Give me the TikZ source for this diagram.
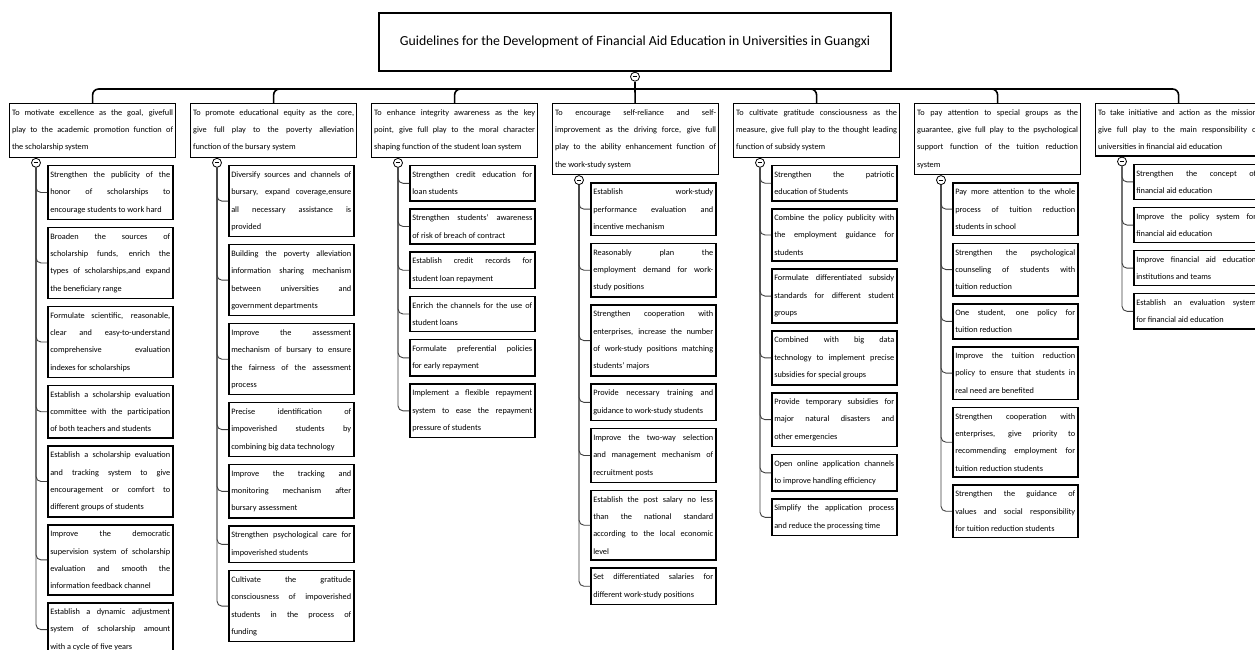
\documentclass[tikz,border=0pt]{standalone}
\usepackage{fontspec}
\setmainfont{Carlito}
\usetikzlibrary{positioning}
\tolerance=10000
\hyphenpenalty=10000
\hbadness=10000
\hfuzz=20pt
\newcommand\boxfont{\fontsize{8.3}{17.3}\selectfont}
\begin{document}
\begin{tikzpicture}[x=1pt,y=1pt]
\tikzstyle{hdbox}=[draw, line width=1.2pt, text width=161pt, inner xsep=2.5pt, inner ysep=6pt, align=justify, font=\boxfont, anchor=north west]
\tikzstyle{leafbox}=[draw, line width=1.5pt, text width=120pt, inner xsep=2.5pt, inner ysep=6pt, align=justify, font=\boxfont]
\tikzstyle{tog}=[circle, draw, fill=white, line width=0.8pt, minimum size=9pt, inner sep=0pt, anchor=north, path picture={\draw[line width=1.1pt] ([xshift=-2.4pt]path picture bounding box.center) -- ([xshift=2.4pt]path picture bounding box.center);}]
\tikzstyle{link}=[draw=black!75, line width=0.9pt, rounded corners=5pt]
\tikzstyle{bus}=[draw=black, line width=1.6pt, rounded corners=6pt]
\clip (0,0) rectangle (1255,-650);
\fill[white] (0,0) rectangle (1255,-650);
\node[draw, line width=1.6pt, minimum width=512pt, minimum height=58pt, font=\fontsize{13.8}{16}\selectfont] (title) at (635,-42) {Guidelines for the Development of Financial Aid Education in Universities in Guangxi};
\node[tog] (ttog) at (title.south) {};
\coordinate (busy) at (0,-89);
\node[hdbox] (hd1) at (9,-103) {To motivate excellence as the goal, givefull\linebreak play to the academic promotion function of\linebreak the scholarship system};
\node[hdbox] (hd2) at (190,-103) {To promote educational equity as the core,\linebreak give full play to the poverty alleviation\linebreak function of the bursary system};
\node[hdbox] (hd3) at (371,-103) {To enhance integrity awareness as the key\linebreak point, give full play to the moral character\linebreak shaping function of the student loan system};
\node[hdbox] (hd4) at (552,-103) {To encourage self-reliance and self-\linebreak improvement as the driving force, give full\linebreak play to the ability enhancement function of\linebreak the work-study system};
\node[hdbox] (hd5) at (733,-103) {To cultivate gratitude consciousness as the\linebreak measure, give full play to the thought leading\linebreak function of subsidy system};
\node[hdbox] (hd6) at (914,-103) {To pay attention to special groups as the\linebreak guarantee, give full play to the psychological\linebreak support function of the tuition reduction\linebreak system};
\node[hdbox] (hd7) at (1095,-103) {To take initiative and action as the mission,\linebreak give full play to the main responsibility of\linebreak universities in financial aid education};
\draw[bus] (ttog) -- (ttog |- busy);
\draw[bus] (ttog |- busy) -| (hd1);
\draw[bus] (ttog |- busy) -| (hd2);
\draw[bus] (ttog |- busy) -| (hd3);
\draw[bus] (ttog |- busy) -- (hd4);
\draw[bus] (ttog |- busy) -| (hd5);
\draw[bus] (ttog |- busy) -| (hd6);
\draw[bus] (ttog |- busy) -| (hd7);
\node[tog] (t1) at ([xshift=27pt]hd1.south west) {};
\node[tog] (t2) at ([xshift=27pt]hd2.south west) {};
\node[tog] (t3) at ([xshift=27pt]hd3.south west) {};
\node[tog] (t4) at ([xshift=27pt]hd4.south west) {};
\node[tog] (t5) at ([xshift=27pt]hd5.south west) {};
\node[tog] (t6) at ([xshift=27pt]hd6.south west) {};
\node[tog] (t7) at ([xshift=27pt]hd7.south west) {};
\node[leafbox, anchor=north west] (a1) at ([xshift=38pt,yshift=-7pt]hd1.south west) {Strengthen the publicity of the\linebreak honor of scholarships to\linebreak \mbox{encourage students to work hard}};
\node[leafbox, below=6.5pt of a1] (a2) {Broaden the sources of\linebreak scholarship funds, enrich the\linebreak types of scholarships,and expand\linebreak the beneficiary range};
\node[leafbox, below=6.5pt of a2] (a3) {Formulate scientific, reasonable,\linebreak clear and easy-to-understand\linebreak comprehensive evaluation\linebreak indexes for scholarships};
\node[leafbox, below=6.5pt of a3] (a4) {Establish a scholarship evaluation\linebreak committee with the participation\linebreak of both teachers and students};
\node[leafbox, below=6.5pt of a4] (a5) {Establish a scholarship evaluation\linebreak and tracking system to give\linebreak encouragement or comfort to\linebreak different groups of students};
\node[leafbox, below=6.5pt of a5] (a6) {Improve the democratic\linebreak supervision system of scholarship\linebreak evaluation and smooth the\linebreak information feedback channel};
\node[leafbox, below=6.5pt of a6] (a7) {Establish a dynamic adjustment\linebreak system of scholarship amount\linebreak with a cycle of five years};
\node[leafbox, anchor=north west] (b1) at ([xshift=38pt,yshift=-7pt]hd2.south west) {Diversify sources and channels of\linebreak bursary, expand coverage,ensure\linebreak all necessary assistance is\linebreak provided};
\node[leafbox, below=6.5pt of b1] (b2) {Building the poverty alleviation\linebreak information sharing mechanism\linebreak between universities and\linebreak government departments};
\node[leafbox, below=6.5pt of b2] (b3) {Improve the assessment\linebreak mechanism of bursary to ensure\linebreak the fairness of the assessment\linebreak process};
\node[leafbox, below=6.5pt of b3] (b4) {Precise identification of\linebreak impoverished students by\linebreak combining big data technology};
\node[leafbox, below=6.5pt of b4] (b5) {Improve the tracking and\linebreak monitoring mechanism after\linebreak bursary assessment};
\node[leafbox, below=6.5pt of b5] (b6) {Strengthen psychological care for\linebreak impoverished students};
\node[leafbox, below=6.5pt of b6] (b7) {Cultivate the gratitude\linebreak consciousness of impoverished\linebreak students in the process of\linebreak funding};
\node[leafbox, anchor=north west] (c1) at ([xshift=38pt,yshift=-7pt]hd3.south west) {Strengthen credit education for\linebreak loan students};
\node[leafbox, below=6.5pt of c1] (c2) {Strengthen students' awareness\linebreak of risk of breach of contract};
\node[leafbox, below=6.5pt of c2] (c3) {Establish credit records for\linebreak student loan repayment};
\node[leafbox, below=6.5pt of c3] (c4) {Enrich the channels for the use of\linebreak student loans};
\node[leafbox, below=6.5pt of c4] (c5) {Formulate preferential policies\linebreak for early repayment};
\node[leafbox, below=6.5pt of c5] (c6) {Implement a flexible repayment\linebreak system to ease the repayment\linebreak pressure of students};
\node[leafbox, anchor=north west] (d1) at ([xshift=38pt,yshift=-7pt]hd4.south west) {Establish work-study\linebreak performance evaluation and\linebreak incentive mechanism};
\node[leafbox, below=6.5pt of d1] (d2) {Reasonably plan the\linebreak employment demand for work-\linebreak study positions};
\node[leafbox, below=6.5pt of d2] (d3) {Strengthen cooperation with\linebreak enterprises, increase the number\linebreak of work-study positions matching\linebreak students' majors};
\node[leafbox, below=6.5pt of d3] (d4) {Provide necessary training and\linebreak guidance to work-study students};
\node[leafbox, below=6.5pt of d4] (d5) {Improve the two-way selection\linebreak and management mechanism of\linebreak recruitment posts};
\node[leafbox, below=6.5pt of d5] (d6) {Establish the post salary no less\linebreak than the national standard\linebreak according to the local economic\linebreak level};
\node[leafbox, below=6.5pt of d6] (d7) {Set differentiated salaries for\linebreak different work-study positions};
\node[leafbox, anchor=north west] (e1) at ([xshift=38pt,yshift=-7pt]hd5.south west) {Strengthen the patriotic\linebreak education of Students};
\node[leafbox, below=6.5pt of e1] (e2) {Combine the policy publicity with\linebreak the employment guidance for\linebreak students};
\node[leafbox, below=6.5pt of e2] (e3) {Formulate differentiated subsidy\linebreak standards for different student\linebreak groups};
\node[leafbox, below=6.5pt of e3] (e4) {Combined with big data\linebreak technology to implement precise\linebreak subsidies for special groups};
\node[leafbox, below=6.5pt of e4] (e5) {Provide temporary subsidies for\linebreak major natural disasters and\linebreak other emergencies};
\node[leafbox, below=6.5pt of e5] (e6) {Open online application channels\linebreak to improve handling efficiency};
\node[leafbox, below=6.5pt of e6] (e7) {Simplify the application process\linebreak and reduce the processing time};
\node[leafbox, anchor=north west] (f1) at ([xshift=38pt,yshift=-7pt]hd6.south west) {Pay more attention to the whole\linebreak process of tuition reduction\linebreak students in school};
\node[leafbox, below=6.5pt of f1] (f2) {Strengthen the psychological\linebreak counseling of students with\linebreak tuition reduction};
\node[leafbox, below=6.5pt of f2] (f3) {One student, one policy for\linebreak tuition reduction};
\node[leafbox, below=6.5pt of f3] (f4) {Improve the tuition reduction\linebreak policy to ensure that students in\linebreak real need are benefited};
\node[leafbox, below=6.5pt of f4] (f5) {Strengthen cooperation with\linebreak enterprises, give priority to\linebreak recommending employment for\linebreak tuition reduction students};
\node[leafbox, below=6.5pt of f5] (f6) {Strengthen the guidance of\linebreak values and social responsibility\linebreak for tuition reduction students};
\node[leafbox, anchor=north west] (g1) at ([xshift=38pt,yshift=-7pt]hd7.south west) {Strengthen the concept of\linebreak financial aid education};
\node[leafbox, below=6.5pt of g1] (g2) {Improve the policy system for\linebreak financial aid education};
\node[leafbox, below=6.5pt of g2] (g3) {Improve financial aid education\linebreak institutions and teams};
\node[leafbox, below=6.5pt of g3] (g4) {Establish an evaluation system\linebreak for financial aid education};
\draw[link] (t1) |- (a1);
\draw[link] (t1) |- (a2);
\draw[link] (t1) |- (a3);
\draw[link] (t1) |- (a4);
\draw[link] (t1) |- (a5);
\draw[link] (t1) |- (a6);
\draw[link] (t1) |- (a7);
\draw[link] (t2) |- (b1);
\draw[link] (t2) |- (b2);
\draw[link] (t2) |- (b3);
\draw[link] (t2) |- (b4);
\draw[link] (t2) |- (b5);
\draw[link] (t2) |- (b6);
\draw[link] (t2) |- (b7);
\draw[link] (t3) |- (c1);
\draw[link] (t3) |- (c2);
\draw[link] (t3) |- (c3);
\draw[link] (t3) |- (c4);
\draw[link] (t3) |- (c5);
\draw[link] (t3) |- (c6);
\draw[link] (t4) |- (d1);
\draw[link] (t4) |- (d2);
\draw[link] (t4) |- (d3);
\draw[link] (t4) |- (d4);
\draw[link] (t4) |- (d5);
\draw[link] (t4) |- (d6);
\draw[link] (t4) |- (d7);
\draw[link] (t5) |- (e1);
\draw[link] (t5) |- (e2);
\draw[link] (t5) |- (e3);
\draw[link] (t5) |- (e4);
\draw[link] (t5) |- (e5);
\draw[link] (t5) |- (e6);
\draw[link] (t5) |- (e7);
\draw[link] (t6) |- (f1);
\draw[link] (t6) |- (f2);
\draw[link] (t6) |- (f3);
\draw[link] (t6) |- (f4);
\draw[link] (t6) |- (f5);
\draw[link] (t6) |- (f6);
\draw[link] (t7) |- (g1);
\draw[link] (t7) |- (g2);
\draw[link] (t7) |- (g3);
\draw[link] (t7) |- (g4);
\end{tikzpicture}
\end{document}
